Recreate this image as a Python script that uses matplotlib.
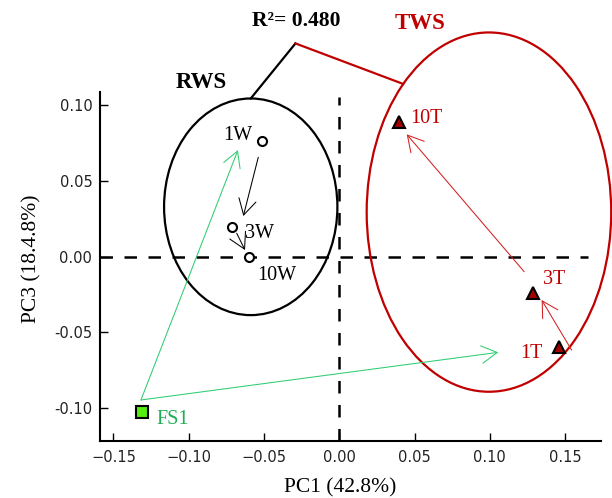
import numpy as np
import matplotlib
matplotlib.use("Agg")
import matplotlib.pyplot as plt
from matplotlib.patches import Ellipse, FancyArrowPatch
from matplotlib.ticker import FuncFormatter, MultipleLocator

# PCA scores (PC1, PC3) for each sample
samples = ["FS1", "1W", "3W", "10W", "1T", "3T", "10T"]
pc1 = [-0.1308, -0.0511, -0.0714, -0.0600, 0.1459, 0.1284, 0.0398]
pc3 = [-0.1028, 0.0765, 0.0198, 0.0000, -0.0595, -0.0242, 0.0892]
groups = ["FS", "RWS", "RWS", "RWS", "TWS", "TWS", "TWS"]

# label anchor points for each sample
label_x = [-0.1104, -0.0674, -0.0533, -0.0414, 0.1273, 0.1426, 0.0576]
label_y = [-0.1073, 0.0804, 0.0155, -0.0121, -0.0638, -0.0149, 0.0915]

# succession arrows: start -> end, per group
arrow_x0 = [-0.1317, -0.1317, -0.0538, -0.0681, 0.1543, 0.1228]
arrow_y0 = [-0.0947, -0.0947, 0.0657, 0.0155, -0.0617, -0.0099]
arrow_x1 = [-0.0673, 0.1056, -0.0637, -0.0626, 0.1344, 0.0448]
arrow_y1 = [0.0705, -0.0632, 0.0269, 0.0044, -0.0286, 0.0809]
arrow_group = ["FS", "FS", "RWS", "RWS", "TWS", "TWS"]

# confidence ellipses (centre x, centre y, width, height)
ell_rws = (-0.0588, 0.0330, 0.1151, 0.1432)
ell_tws = (0.0994, 0.0295, 0.1624, 0.2375)

r2_text = "R\u00b2= 0.480"

SERIF = "Liberation Serif"
RED = "#c00000"
GREEN_TXT = "#1fae55"
GREEN_LN = "#2ecc71"

style = {
    "FS": dict(marker="s", mfc="#55ee11", ms=8.0, text=GREEN_TXT, line=GREEN_LN),
    "RWS": dict(marker="o", mfc="white", ms=6.5, text="black", line="black"),
    "TWS": dict(marker="^", mfc="#a50000", ms=8.0, text=RED, line="#d42020"),
}

fig = plt.figure(figsize=(6.12, 4.98), dpi=100)
ax = fig.add_axes([0.1634, 0.1145, 0.8181, 0.7014])
ax.set_xlim(-0.1589, 0.1736)
ax.set_ylim(-0.1218, 0.1091)

# reference lines through the origin
ax.vlines(0, -0.1218, 0.1056, colors="black", lw=1.8,
          linestyles=(0, (5, 4.6)), zorder=1)
ax.hlines(0, -0.1589, 0.165, colors="black", lw=1.8,
          linestyles=(0, (5, 4.6)), zorder=1)

# group ellipses
for (cx, cy, w, h), col in ((ell_rws, "black"), (ell_tws, RED)):
    ax.add_patch(Ellipse((cx, cy), w, h, fill=False, ec=col, lw=1.6,
                         clip_on=False, zorder=2))

# arrows
for x0, y0, x1, y1, g in zip(arrow_x0, arrow_y0, arrow_x1, arrow_y1, arrow_group):
    ax.add_patch(FancyArrowPatch((x0, y0), (x1, y1),
                                 arrowstyle="->,head_length=0.8,head_width=0.45",
                                 mutation_scale=14, lw=0.75,
                                 color=style[g]["line"], shrinkA=0, shrinkB=0,
                                 zorder=3))

# sample points and labels
for s, x, y, g, lx, ly in zip(samples, pc1, pc3, groups, label_x, label_y):
    st = style[g]
    ax.plot(x, y, linestyle="none", marker=st["marker"], mfc=st["mfc"],
            mec="black", mew=1.5, ms=st["ms"], zorder=4, clip_on=False)
    ax.text(lx, ly, s, fontsize=14.5, family=SERIF, color=st["text"],
            ha="center", va="center", zorder=5)

# callout linking the two ellipses to the R² value
cx, cy, w, h = ell_rws
p_rws = (cx, cy + h / 2)
elbow = (-0.0291, 0.1410)
cx2, cy2, w2, h2 = ell_tws
t = np.deg2rad(134.5)
p_tws = (cx2 + w2 / 2 * np.cos(t), cy2 + h2 / 2 * np.sin(t))
ax.plot([p_rws[0], elbow[0]], [p_rws[1], elbow[1]], color="black", lw=1.6,
        clip_on=False, zorder=2)
ax.plot([elbow[0], p_tws[0]], [elbow[1], p_tws[1]], color=RED, lw=1.6,
        clip_on=False, zorder=2)

ax.text(-0.0288, 0.1558, r2_text, fontsize=15.5, family=SERIF,
        fontweight="bold", ha="center", va="center")
ax.text(-0.0915, 0.1155, "RWS", fontsize=16.5, family=SERIF,
        fontweight="bold", ha="center", va="center")
ax.text(0.0537, 0.1540, "TWS", fontsize=16.5, family=SERIF,
        fontweight="bold", color=RED, ha="center", va="center")

# axes styling
for side in ("top", "right"):
    ax.spines[side].set_visible(False)
for side in ("left", "bottom"):
    ax.spines[side].set_linewidth(1.5)

ax.xaxis.set_major_locator(MultipleLocator(0.05))
ax.yaxis.set_major_locator(MultipleLocator(0.05))
ax.yaxis.set_major_formatter(FuncFormatter(lambda v, p: f"{v:.2f}".replace("\u2212", "-")))
ax.tick_params(direction="in", length=5.8, width=1.0, labelsize=10.5,
               labelcolor="#222222", colors="black")
ax.tick_params(axis="x", pad=6.5)
ax.tick_params(axis="y", pad=5.5)
for lab in ax.get_xticklabels() + ax.get_yticklabels():
    lab.set_family("DejaVu Sans")

# axis titles
fig.text(340.5 / 612, 1 - 488 / 498, "PC1 (42.8%)", fontsize=15.5,
         family=SERIF, ha="center", va="center")
fig.text(32 / 612, 1 - 258.7 / 498, "PC3 (18.4.8%)", fontsize=15.5,
         family=SERIF, ha="center", va="center", rotation=90)

fig.savefig("out.png", dpi=100)
